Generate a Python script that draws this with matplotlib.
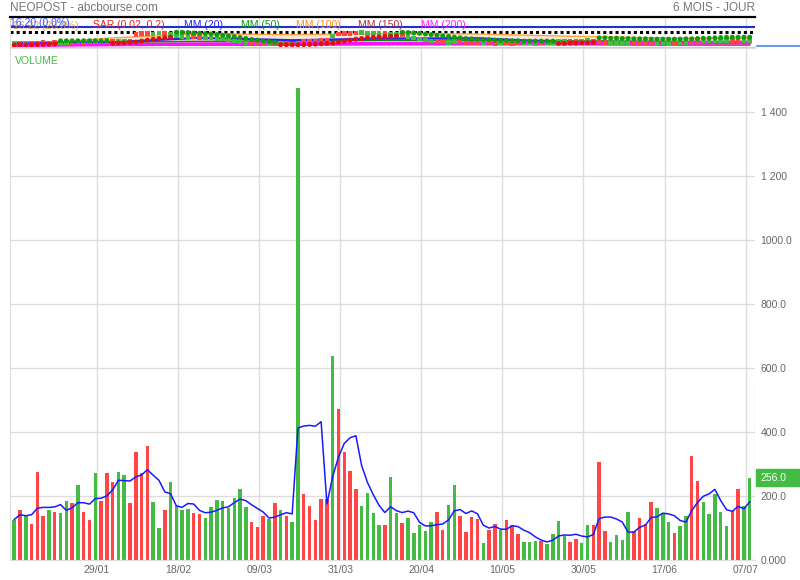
import numpy as np
import matplotlib.pyplot as plt
from matplotlib import transforms
from matplotlib.patches import Rectangle

plt.rcParams['font.family'] = ['Liberation Sans', 'DejaVu Sans']

# daily volume (thousands), colour of the day: g = up, r = down
volume = [122, 156, 139, 110, 274, 137, 154, 149, 145, 184,
          177, 234, 148, 123, 271, 182, 271, 241, 274, 265,
          177, 336, 271, 355, 179, 97, 156, 241, 166, 156,
          157, 147, 142, 129, 165, 187, 184, 160, 193, 221,
          163, 118, 103, 137, 128, 176, 156, 135, 118, 1474,
          204, 166, 123, 188, 188, 635, 470, 335, 276, 220,
          167, 208, 144, 107, 109, 257, 146, 115, 130, 83,
          107, 90, 117, 148, 93, 171, 232, 137, 86, 134,
          126, 53, 93, 110, 93, 124, 108, 79, 55, 54,
          57, 59, 50, 81, 121, 72, 56, 65, 53, 107,
          109, 306, 88, 54, 77, 61, 149, 88, 129, 111,
          180, 160, 145, 117, 83, 105, 135, 325, 245, 179,
          143, 205, 149, 104, 152, 222, 166, 256]
day_colour = ("grgrrrgrggrgrrgrrrggrrrrg"
              "grggggrrggggggggrrrgrgrggr"
              "rrrrgrrrrggggrggrgggggrrg"
              "grrrrgrrgrrrgggrggggrrggrr"
              "rggggrrrrgggrggrrgggggrrgg")
# volume moving average (blue line)
mm5 = [125, 140, 137, 140, 160.2, 163.2, 162.8, 164.8, 171.8, 153.8,
       161.8, 177.8, 177.6, 173.2, 190.6, 191.6, 199.0, 217.6, 247.8, 246.6,
       245.6, 258.6, 264.6, 280.8, 263.6, 247.6, 211.6, 205.6, 167.8, 163.2,
       175.2, 173.4, 153.6, 146.2, 148.0, 154.0, 161.4, 165.0, 177.8, 189.0,
       184.2, 171.0, 159.6, 148.4, 129.8, 132.4, 140.0, 146.4, 142.6, 411.8,
       417.4, 419.4, 417.0, 431.0, 173.8, 260.0, 320.8, 363.2, 380.8, 387.2,
       293.6, 241.2, 203.0, 169.2, 147.0, 165.0, 152.6, 146.8, 151.4, 146.2,
       116.2, 105.0, 105.4, 109.0, 111.0, 123.8, 152.2, 156.2, 143.8, 152.0,
       143.0, 107.2, 98.4, 103.2, 95.0, 94.6, 105.6, 102.8, 91.8, 84.0,
       70.6, 60.8, 55.0, 60.2, 73.6, 76.6, 76.0, 79.0, 73.4, 70.6,
       78.0, 128.0, 132.6, 132.8, 126.8, 117.2, 85.8, 85.8, 100.8, 107.6,
       131.4, 133.6, 145.0, 142.6, 137.0, 122.0, 117.0, 153.0, 178.6, 197.8,
       205.4, 219.4, 184.2, 156.0, 150.6, 166.4, 158.6, 180.0]

date_labels = ['29/01', '18/02', '09/03', '31/03', '20/04', '10/05', '30/05', '17/06', '07/07']
date_index = [14, 28, 42, 56, 70, 84, 98, 112, 126]
vol_ticks = [0, 200, 400, 600, 800, 1000, 1200, 1400]
vol_tick_labels = ['0.000', '200.0', '400.0', '600.0', '800.0', '1000.0', '1 200', '1 400']

# small price panel
close = [15.8, 15.9, 15.8, 15.9, 16.0, 16.1, 16.0, 16.2, 16.1, 16.2,
         16.1, 16.3, 16.2, 16.4, 16.3, 16.5, 16.4, 16.6, 16.5, 16.7,
         16.6, 18.6, 18.9, 19.0, 18.8, 19.1, 19.0, 18.7, 18.2, 18.0,
         17.9, 18.0, 17.8, 17.6, 17.5, 17.4, 17.2, 16.9, 16.6, 16.4,
         16.2, 16.0, 15.9, 15.8, 15.9, 15.7, 15.8, 15.9, 15.7, 15.8,
         16.4, 16.7, 16.6, 16.9, 17.0, 18.2, 18.8, 19.0, 18.9, 19.1,
         19.2, 19.0, 19.1, 18.9, 19.0, 18.8, 18.7, 18.3, 17.9, 17.5,
         17.2, 16.9, 16.6, 16.4, 16.3, 16.2, 16.4, 16.3, 16.1, 16.0,
         16.2, 16.1, 16.0, 15.9, 16.1, 16.0, 15.9, 16.1, 16.2, 16.0,
         15.9, 16.0, 16.1, 16.2, 16.5, 16.6, 16.5, 16.7, 16.6, 16.8,
         16.7, 16.3, 16.2, 16.0, 16.1, 15.9, 15.9, 15.8, 15.9, 16.0,
         15.8, 15.9, 16.0, 15.9, 15.8, 16.0, 16.1, 16.3, 16.5, 16.6,
         16.7, 16.8, 16.7, 16.8, 16.7, 16.6, 16.7, 16.8]
sar = [15.4, 15.45, 15.5, 15.5, 15.55, 15.6, 15.65, 15.7,
       16.7, 16.7, 16.7, 16.7, 16.7, 16.7, 16.7, 16.7, 16.75,
       15.9, 16.0, 16.1, 16.2, 16.3, 16.6, 16.9, 17.2, 17.4, 17.6, 17.8,
       19.3, 19.3, 19.2, 19.1, 19.0, 18.9, 18.8, 18.6, 18.4, 18.2, 18.0, 17.7,
       17.4, 17.1, 16.9, 16.6, 16.4, 16.2,
       15.5, 15.5, 15.5, 15.5, 15.55, 15.6, 15.7, 15.8, 15.9, 16.0, 16.3, 16.6,
       16.9, 17.2, 17.4, 17.6, 17.8, 17.9, 18.0, 18.1, 18.2,
       19.3, 19.2, 19.1, 19.0, 18.8, 18.6, 18.4, 18.2, 18.0, 17.8, 17.6, 17.4,
       17.3, 17.2, 17.1, 17.0, 16.9, 16.8, 16.8, 16.7, 16.7, 16.6, 16.6, 16.6,
       16.6, 16.6, 16.6,
       15.9, 15.9, 16.0, 16.0, 16.1, 16.1, 16.2,
       17.6, 17.6, 17.5, 17.5, 17.4, 17.4, 17.3, 17.3, 17.3, 17.2, 17.2, 17.2,
       17.2, 17.2, 17.2, 17.3, 17.3, 17.4, 17.5, 17.5, 17.6, 17.7, 17.8, 17.8,
       17.8, 17.8, 17.8]
mm_index = [0, 16, 32, 48, 64, 80, 96, 112, 127]
mm20 = [16.0, 16.2, 17.6, 16.9, 17.4, 17.5, 16.2, 16.3, 16.4]
mm50 = [16.2, 16.3, 16.5, 16.6, 16.9, 16.9, 16.7, 16.5, 16.3]
mm100 = [15.2, 17.5, 18.8, 18.6, 18.9, 18.8, 18.1, 17.6, 17.4]
mm150 = [15.3, 15.4, 15.4, 15.4, 15.5, 15.5, 15.5, 15.4, 15.4]
mm200 = [15.3, 15.5, 15.7, 15.8, 15.9, 16.0, 16.0, 16.0, 16.1]
level_blue = 20.9
level_dotted = 19.5
price_marker = 15.1

GREEN = '#44bb44'
RED = '#ff4545'
GRID = '#dddddd'
W, H = 800, 580


def box(l, t, r, b):
    return [l / W, 1 - b / H, (r - l) / W, (b - t) / H]


fig = plt.figure(figsize=(8, 5.8), dpi=100)
ax = fig.add_axes(box(10, 48, 755, 559.5))
top = fig.add_axes(box(10, 17, 755, 47))

x = np.arange(len(volume))
colours = [GREEN if c == 'g' else RED for c in day_colour]
xlim = (-0.725, 127.92)

# volume panel
ax.bar(x, volume, width=0.6, color=colours, zorder=2)
ax.plot(x, mm5, color='#1a1aff', lw=1.1, zorder=3)
ax.set_xlim(*xlim)
ax.set_ylim(0, 1600)
ax.set_axisbelow(True)
ax.yaxis.tick_right()
ax.set_yticks(vol_ticks, vol_tick_labels)
ax.set_xticks(np.array(date_index) + 0.3, date_labels)
ax.tick_params(length=0, colors='#666666', labelsize=7.5)
ax.tick_params(axis='y', pad=4)
ax.tick_params(axis='x', pad=4)
ax.grid(color=GRID, lw=1)
for s in ['left', 'bottom', 'top']:
    ax.spines[s].set_color(GRID)
ax.spines['right'].set_visible(False)
ax.axvline(xlim[1], ymax=0.35, color=GRID, lw=1)
ax.text(0.007, 0.985, 'VOLUME', transform=ax.transAxes, color=GREEN,
        fontsize=7.5, va='top', ha='left')

# last volume label
trans = transforms.blended_transform_factory(ax.transAxes, ax.transData)
ax.add_patch(Rectangle((1.0015, volume[-1] - 27), 0.1, 54, transform=trans,
                       color=GREEN, clip_on=False, zorder=4))
ax.text(1.007, volume[-1], '%.1f' % volume[-1], transform=trans, color='white',
        fontsize=7.5, va='center', ha='left', zorder=5)

# price panel
top.set_xlim(*xlim)
top.set_ylim(14.8, 24.0)
top.fill_between(mm_index, mm100, mm150, color='#fde6d2', lw=0, zorder=1)
top.axhline(level_blue, color='#1f2fd0', lw=1.5, zorder=2)
top.axhline(level_dotted, color='black', lw=2.2, ls=(0, (1, 1)), zorder=2)
top.plot(mm_index, mm150, color='#993333', lw=1, zorder=3)
top.plot(mm_index, mm100, color='#ffa040', lw=1, zorder=3)
top.plot(mm_index, mm50, color='#118811', lw=1.2, zorder=3)
top.plot(mm_index, mm20, color='#2222ff', lw=1.5, zorder=3)
top.plot(mm_index, mm200, color='#ff11ff', lw=2.4, zorder=3)
top.scatter(x, close, c=colours, marker='s', s=11, lw=0, zorder=4)
sar_colours = ['#119911' if s > c else '#dd1111' for s, c in zip(sar, close)]
top.scatter(x, sar, c=sar_colours, s=13, lw=0, zorder=5)
top.plot([xlim[1] + 0.3, xlim[1] + 8], [price_marker, price_marker],
         color='#4a86e8', lw=1.2, clip_on=False)
top.set_xticks(np.array(date_index) + 0.3)
top.set_yticks([])
top.tick_params(length=0, labelbottom=False)
top.grid(axis='x', color=GRID, lw=1)
top.set_axisbelow(True)
top.spines['top'].set_color('black')
top.spines['top'].set_linewidth(1.6)
top.spines['bottom'].set_color('#cccccc')
top.spines['left'].set_color(GRID)
top.spines['right'].set_visible(False)

# texts
fig.text(10 / W, 1 - 8 / H, 'NEOPOST - abcbourse.com', color='#777777', fontsize=8.5, va='center')
fig.text(755 / W, 1 - 8 / H, '6 MOIS - JOUR', color='#777777', fontsize=8.5, va='center', ha='right')
fig.text(13 / W, 1 - 26 / H, '16.22 (20.0%)', color='#e09040', fontsize=7.5, va='center', alpha=0.85)
fig.text(10 / W, 1 - 23.5 / H, '16.20 (0.0%)', color='#3355ff', fontsize=7.5, va='center')
legend = [('SAR (0.02, 0.2)', '#ee2222', 93), ('MM (20)', '#2222ff', 184),
          ('MM (50)', '#119911', 241), ('MM (100)', '#ff8c1a', 296),
          ('MM (150)', '#aa3333', 358), ('MM (200)', '#ff22ff', 421)]
for label, col, px in legend:
    fig.text(px / W, 1 - 24.5 / H, label, color=col, fontsize=7.5, va='center')

fig.savefig('out.png', dpi=100)
